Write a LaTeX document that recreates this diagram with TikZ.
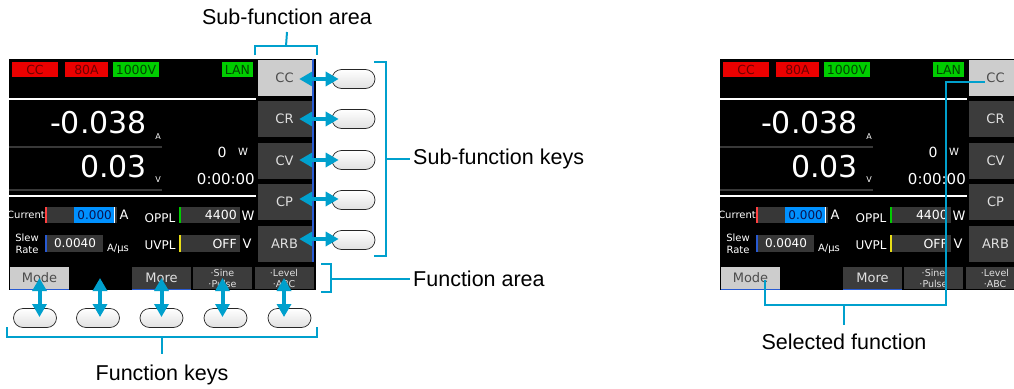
\documentclass[tikz,border=0pt]{standalone}
\usepackage{fontspec}
\setmainfont{Liberation Sans}
\newfontfamily\scr{DejaVu Sans}
\usetikzlibrary{arrows.meta}
\newcommand\myfs[1]{\fontsize{#1}{\dimexpr#1pt*6/5\relax}\selectfont}
\definecolor{lblue}{RGB}{0,160,205}
\definecolor{btnD}{RGB}{60,60,60}
\definecolor{btnL}{RGB}{205,205,205}
\definecolor{tagRed}{RGB}{235,0,0}
\definecolor{tagRedT}{RGB}{110,0,0}
\definecolor{tagGrn}{RGB}{0,205,0}
\definecolor{tagGrnT}{RGB}{0,70,0}
\definecolor{fieldG}{RGB}{55,55,55}
\definecolor{hiBlue}{RGB}{0,145,255}
\definecolor{hiT}{RGB}{10,20,80}
\definecolor{edgeBlue}{RGB}{40,90,210}
\tikzset{
 sbtn/.style={minimum width=54pt, minimum height=36pt, inner sep=0pt, font=\scr\myfs{13}},
 darkbtn/.style={sbtn, fill=btnD, text=black!12},
 lightbtn/.style={sbtn, fill=btnL, text=black!70},
 fbtn/.style={minimum width=59pt, minimum height=22pt, inner sep=0pt, font=\scr\myfs{13}},
 fdark/.style={fbtn, fill=btnD, text=black!12},
 flight/.style={fbtn, fill=btnL, text=black!70},
 tag/.style={minimum height=15pt, inner sep=0pt, font=\scr\myfs{12.5}},
 redtag/.style={tag, fill=tagRed, text=tagRedT},
 grntag/.style={tag, fill=tagGrn, text=tagGrnT},
 keyoval/.style={draw=black!85, line width=0.7pt, rounded corners=9.5pt, minimum width=43pt, minimum height=19pt, inner sep=0pt, top color=white, bottom color=black!12},
 dbl/.style={draw=lblue, line width=4pt, {Triangle[length=13pt,width=14pt]}-{Triangle[length=13pt,width=14pt]}},
 bline/.style={draw=lblue, line width=2pt},
 lbl/.style={font=\myfs{21.5}, inner sep=0pt},
 scrtxt/.style={font=\scr\myfs{#1}, text=white, inner sep=0pt},
}
\newcommand\drawscreen{%
 \fill[black] (9,59) rectangle (316,290);
 % status tags
 \node[redtag, minimum width=46pt] (tCC) at (35,69.5) {CC};
 \node[redtag, minimum width=43pt] (t80) at (86.5,69.5) {80A};
 \node[grntag, minimum width=46pt] (t1000) at (136,69.5) {1000V};
 \node[grntag, minimum width=31pt] (tLAN) at (237.5,69.5) {LAN};
 \draw[white, line width=1.5pt] (9,99) -- (256,99);
 % readings
 \node[scrtxt=30, anchor=east] (num1) at (147,123) {-0.038};
 \node[scrtxt=8] (u1) at (158,137) {A};
 \draw[black!78, line width=1.5pt] (9,147) -- (162,147);
 \node[scrtxt=30, anchor=east] (num2) at (147,167) {0.03};
 \node[scrtxt=8] (u2) at (158,180) {V};
 \draw[black!78, line width=1.5pt] (9,190) -- (162,190);
 \node[scrtxt=14] (pw) at (222,152) {0};
 \node[scrtxt=10] (pwu) at (243,152) {W};
 \node[scrtxt=15, anchor=east] (tm) at (255,179) {0:00:00};
 \draw[white, line width=1.5pt] (9,196) -- (256,196);
 % settings
 \node[scrtxt=10, anchor=east] (lCur) at (45,215) {Current};
 \fill[fieldG] (47,207) rectangle (117,223);
 \fill[hiBlue] (74,207) rectangle (114,223);
 \draw[white, line width=1pt] (114.5,207) -- (114.5,223);
 \draw[red!75!white, line width=1.3pt] (46,207) -- (46,223);
 \node[font=\scr\myfs{12}, text=hiT, inner sep=0pt, anchor=east] (vCur) at (112,215) {0.000};
 \node[scrtxt=13] (uCur) at (124,215) {A};
 \node[font=\scr\fontsize{10}{12}\selectfont, text=white, inner sep=0pt, align=center] (lSlew) at (27,244) {Slew\\Rate};
 \fill[fieldG] (47,235) rectangle (103,252);
 \draw[edgeBlue, line width=1.3pt] (46,235) -- (46,252);
 \node[scrtxt=12] (vSlew) at (75,243) {0.0040};
 \node[scrtxt=10] (uSlew) at (118,249) {A/μs};
 \node[scrtxt=12] (lOPPL) at (160,218) {OPPL};
 \fill[fieldG] (181,207) rectangle (240,223);
 \draw[green!80!black, line width=1.3pt] (180,207) -- (180,223);
 \node[scrtxt=12.5, anchor=east] (vOPPL) at (237,215) {4400};
 \node[scrtxt=13] (uOPPL) at (248,216) {W};
 \node[scrtxt=12] (lUVPL) at (160,245) {UVPL};
 \fill[fieldG] (181,235) rectangle (240,252);
 \draw[yellow!90!black, line width=1.3pt] (180,235) -- (180,252);
 \node[scrtxt=12.5, anchor=east] (vUVPL) at (237,244) {OFF};
 \node[scrtxt=13] (uUVPL) at (247,244) {V};
 % sub-function buttons
 \node[lightbtn] (bCC) at (284.5,77.5) {CC};
 \node[darkbtn] (bCR) at (284.5,119) {CR};
 \node[darkbtn] (bCV) at (284.5,160.5) {CV};
 \node[darkbtn] (bCP) at (284.5,202) {CP};
 \node[darkbtn] (bARB) at (284.5,244) {ARB};
 \draw[edgeBlue, line width=2pt] (313,59) -- (313,262);
 % function buttons
 \node[flight] (bMode) at (39.5,278) {Mode};
 \node[fdark] (bMore) at (161.5,278) {More};
 \node[fdark, font=\scr\fontsize{9.5}{11}\selectfont, align=center] (bSine) at (222.5,278) {·Sine\\·Pulse};
 \node[fdark, font=\scr\fontsize{9.5}{11}\selectfont, align=center] (bLevel) at (284,278) {·Level\\·ABC};
 \draw[edgeBlue, line width=1.3pt] (bMode.south west) -- (bMode.south east);
 \draw[edgeBlue, line width=1.3pt] (bMore.south west) -- (bMore.south east);
}
\begin{document}
\begin{tikzpicture}[x=1pt,y=-1pt]
\useasboundingbox (0,0) rectangle (1014,388);
\fill[white] (0,0) rectangle (1014,388);
% left screen
\drawscreen
% right screen (clipped)
\begin{scope}[shift={(711,0)}, name prefix=R-]
 \clip (0,0) rectangle (303,388);
 \drawscreen
\end{scope}
% sub-function keys
\node[keyoval] (k1) at (353.5,79) {};
\node[keyoval] (k2) at (353.5,119) {};
\node[keyoval] (k3) at (353.5,160) {};
\node[keyoval] (k4) at (353.5,200) {};
\node[keyoval] (k5) at (353.5,240) {};
\draw[dbl] ([xshift=-12.5pt]bCC.east |- k1.center) -- ([xshift=7pt]k1.west);
\draw[dbl] ([xshift=-12.5pt]bCR.east |- k2.center) -- ([xshift=7pt]k2.west);
\draw[dbl] ([xshift=-12.5pt]bCV.east |- k3.center) -- ([xshift=7pt]k3.west);
\draw[dbl] ([xshift=-12.5pt,yshift=1pt]bCP.east |- k4.center) -- ([xshift=7pt,yshift=1pt]k4.west);
\draw[dbl] ([xshift=-12.5pt,yshift=1pt]bARB.east |- k5.center) -- ([xshift=7pt,yshift=1pt]k5.west);
% function keys
\node[keyoval] (f1) at (35,318) {};
\node[keyoval] (f2) at (98,318) {};
\node[keyoval] (f3) at (161.5,318) {};
\node[keyoval] (f4) at (225.5,318) {};
\node[keyoval] (f5) at (289.5,318) {};
\coordinate (fEmpty) at (100,278);
\draw[dbl] (bMode.center) -- ([yshift=1pt]bMode.center |- f1.center);
\draw[dbl] (fEmpty) -- ([yshift=1pt]fEmpty |- f2.center);
\draw[dbl] (bMore.center) -- ([yshift=1pt]bMore.center |- f3.center);
\draw[dbl] (bSine.center) -- ([yshift=1pt]bSine.center |- f4.center);
\draw[dbl] (bLevel.center) -- ([yshift=1pt]bLevel.center |- f5.center);
% labels
\node[lbl] (lSFA) at (287,17) {Sub-function area};
\node[lbl, anchor=west] (lSFK) at (413,159) {Sub-function keys};
\node[lbl, anchor=west] (lFA) at (413,279) {Function area};
\node[lbl] (lFK) at (162,375) {Function keys};
\node[lbl] (lSel) at (844,342) {Selected function};
% brackets
\draw[bline] (255,55) -- (255,46) -- (317,46) -- (317,55);
\draw[bline] (286,46) -- (lSFA.south |- 0,32);
\draw[bline] (374,62) -- (386,62) -- (386,256) -- (374,256);
\draw[bline] (386,159) -- ([xshift=-3pt]lSFK.west);
\draw[bline] (321,264) -- (331,264) -- (331,292) -- (321,292);
\draw[bline] (331,279) -- ([xshift=-3pt]lFA.west);
\draw[bline] (7,327) -- (7,337) -- (317,337) -- (317,327);
\draw[bline] (162,337) -- (lFK.north |- 0,354);
% selected function
\coordinate (selA) at ([xshift=14.5pt,yshift=-2pt]R-bMode.center);
\coordinate (selB) at (946,305);
\draw[bline] (selA) |- (selB) |- ([xshift=-11pt]R-bCC.center |- 0,82);
\draw[bline] (lSel.north |- selB) -- (lSel.north |- 0,325);
\end{tikzpicture}
\end{document}
